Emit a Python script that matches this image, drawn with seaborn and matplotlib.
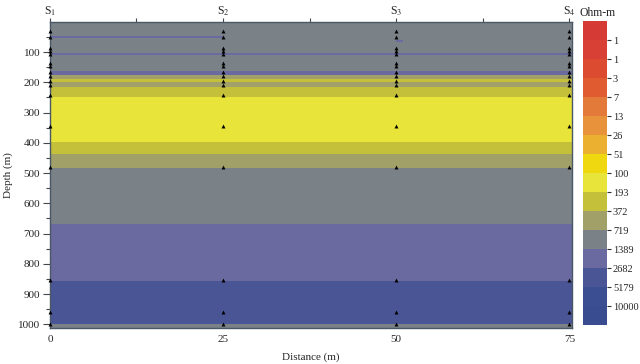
# -*- coding: utf-8 -*-
"""
Layered resistivity section between four stations
"""

import numpy as np
import pandas as pd
import matplotlib.pyplot as plt
from matplotlib.colors import ListedColormap, BoundaryNorm
import seaborn as sns

# data
stations = ['S$_1$', 'S$_2$', 'S$_3$', 'S$_4$']
station_x = [0, 25, 50, 75]
marker_depth = [30, 50, 85, 95, 105, 135, 145, 165, 178, 195, 208, 242,
                345, 480, 855, 960, 1000]

x_edges = [0, 25, 50, 51, 76]
depth_edges = [0, 48, 53, 60, 66, 103, 108, 163, 176, 190, 200, 214, 250,
               396, 438, 482, 669, 857, 1000, 1012]
resistivity = [
    [1000, 1000, 1000, 1000],
    [2000, 1000, 1000, 1000],
    [1000, 1000, 1000, 1000],
    [1000, 1000, 2000, 1000],
    [1000, 1000, 1000, 1000],
    [2000, 2000, 2000, 2000],
    [1000, 1000, 1000, 1000],
    [2000, 2000, 2000, 2000],
    [500, 500, 500, 500],
    [250, 250, 250, 250],
    [500, 500, 500, 500],
    [250, 250, 250, 250],
    [150, 150, 150, 150],
    [250, 250, 250, 250],
    [500, 500, 500, 500],
    [1000, 1000, 1000, 1000],
    [2000, 2000, 2000, 2000],
    [4000, 4000, 4000, 4000],
    [1000, 1000, 1000, 1000],
]

bounds = [0.5, 1.0, 1.9, 3.7, 7.2, 13.9, 26.8, 51.8, 100, 193, 372, 719,
          1389, 2682, 5179, 10000, 19300]
bound_labels = ['1', '1', '3', '7', '13', '26', '51', '100', '193', '372',
                '719', '1389', '2682', '5179', '10000']
colors = ['#d63a35', '#d84035', '#dc4a30', '#e05c30', '#e47a3a', '#e8923c',
          '#ecb030', '#f0d810', '#e8e43a', '#c4c03a', '#a0a068', '#7a8288',
          '#6a6aa0', '#4a5595', '#3c4e92', '#3a4c90']

# set theme
sns.set_theme(style="white")
plt.rcParams['font.family'] = ['Liberation Serif', 'DejaVu Serif']
plt.rcParams['mathtext.fontset'] = 'stix'

fig = plt.figure(figsize=(6.4, 3.64), dpi=100)
ax = fig.add_axes([0.078, 0.099, 0.816, 0.841])
cax = fig.add_axes([0.911, 0.107, 0.038, 0.835])

cmap = ListedColormap(colors)
norm = BoundaryNorm(bounds, cmap.N)

# plot layers
mesh = ax.pcolormesh(x_edges, depth_edges, np.array(resistivity),
                     cmap=cmap, norm=norm, shading='flat')

# plot sensor markers
pts = pd.DataFrame([(x, d) for x in station_x for d in marker_depth],
                   columns=['x', 'depth'])
sns.scatterplot(data=pts, x='x', y='depth', marker='^', s=8, color='black',
                linewidth=0, legend=False, ax=ax, clip_on=False, zorder=3)

ax.set_xlim(0, 75.4)
ax.set_ylim(1012, 0)

# axes and ticks
ax.set_xticks(station_x)
ax.set_yticks([100, 200, 300, 400, 500, 600, 700, 800, 900, 1000])
ax.set_yticks([50, 150, 250, 350, 450, 550, 650, 750, 850, 950], minor=True)
ax.tick_params(axis='x', length=0, labelsize=8, pad=5)
ax.tick_params(axis='y', which='major', left=True, length=5, width=0.8,
               direction='out', labelsize=8, pad=2, color='#404850')
ax.tick_params(axis='y', which='minor', left=True, length=3, width=0.8,
               direction='out', color='#404850')
ax.set_xlabel('Distance (m)', fontsize=8, labelpad=6)
ax.set_ylabel('Depth (m)', fontsize=8, labelpad=4)

top = ax.secondary_xaxis('top')
top.set_xticks([0, 12.5, 25, 37.5, 50, 62.5, 75])
top.tick_params(length=3, width=0.8, direction='out', labeltop=False,
                color='#404850')
top.spines['top'].set_visible(False)

for s in ax.spines.values():
    s.set_color('#4a5866')
    s.set_linewidth(1.0)

# station labels
for name, x in zip(stations, station_x):
    ax.text(x, 1.036, name, transform=ax.get_xaxis_transform(),
            ha='center', va='center', fontsize=8.5)

# colorbar
cb = fig.colorbar(mesh, cax=cax, spacing='uniform')
cb.set_ticks(bounds[1:-1], labels=bound_labels)
cb.ax.minorticks_off()
cb.ax.invert_yaxis()
cb.outline.set_visible(False)
cb.ax.tick_params(length=3, width=0.8, direction='out', labelsize=7.5,
                  pad=1, color='#303030')
fig.text(0.934, 0.964, 'Ohm-m', ha='center', va='center', fontsize=8.5)

plt.savefig('out.png', dpi=100)
